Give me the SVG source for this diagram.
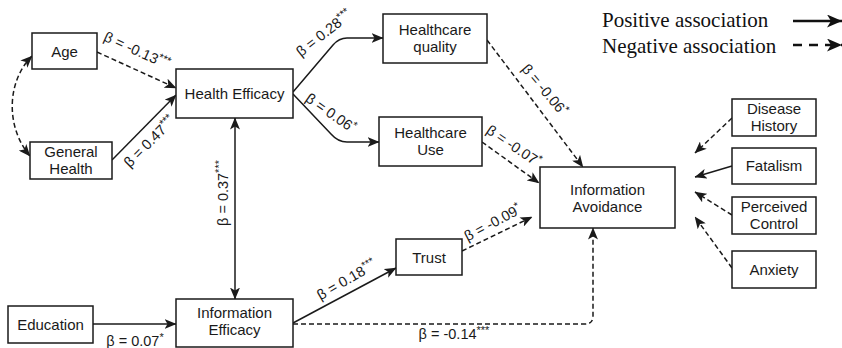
<svg xmlns="http://www.w3.org/2000/svg" width="842" height="348" viewBox="0 0 842 348">
  <style>
    .box { fill: #fff; stroke: #1a1a1a; stroke-width: 1.5; }
    .lbl { font-family: "Liberation Sans", Arial, sans-serif; font-size: 15px; fill: #1a1a1a; text-anchor: middle; }
    .coef { font-family: "Liberation Sans", Arial, sans-serif; font-size: 14.5px; fill: #1a1a1a; text-anchor: middle; }
    .sup { font-size: 11px; }
    .leg { font-family: "Liberation Serif", "Times New Roman", serif; font-size: 21px; fill: #111; }
    .pos { fill: none; stroke: #1a1a1a; stroke-width: 1.5; marker-end: url(#ah); }
    .neg { fill: none; stroke: #1a1a1a; stroke-width: 1.5; stroke-dasharray: 5 3; marker-end: url(#ah); }
  </style>
  <defs>
    <marker id="ah" viewBox="0 0 12 10" refX="11.5" refY="5" markerWidth="12" markerHeight="10" markerUnits="userSpaceOnUse" orient="auto-start-reverse">
      <path d="M0,0 L12,5 L0,10 L3,5 z" fill="#1a1a1a"/>
    </marker>
    <marker id="ah-big" viewBox="0 0 15 13" refX="15" refY="6.5" markerWidth="15" markerHeight="13" markerUnits="userSpaceOnUse" orient="auto">
      <path d="M0,0 L15,6.5 L0,13 L4,6.5 z" fill="#111"/>
    </marker>
  </defs>
  <rect width="842" height="348" fill="#fff"/>

  <!-- legend -->
  <g id="legend">
    <text class="leg" x="602" y="27">Positive association</text>
    <text class="leg" x="602" y="53">Negative association</text>
    <line x1="793" y1="21" x2="842" y2="21" stroke="#111" stroke-width="2.5" marker-end="url(#ah-big)"/>
    <line x1="793" y1="45" x2="842" y2="45" stroke="#111" stroke-width="2.5" stroke-dasharray="9 7" marker-end="url(#ah-big)"/>
  </g>

  <!-- connectors -->
  <g id="connectors">
    <path class="neg" d="M32,56 C6,82 6,128 30,156" marker-start="url(#ah)"/>
    <path class="neg" d="M97,52 L176,88"/>
    <path class="pos" d="M112,160 L176,95"/>
    <path class="pos" d="M235,118 L235,299" marker-start="url(#ah)"/>
    <path class="pos" d="M293,92 L333,45 Q339,38 347,38 L383,38"/>
    <path class="pos" d="M293,94 L331,134 Q338,142 347,142 L379,142"/>
    <path class="neg" d="M487,40 L583,167"/>
    <path class="neg" d="M482,142 L539,183"/>
    <path class="pos" d="M93,324 L176,324"/>
    <path class="pos" d="M293,323 L396,268"/>
    <path class="neg" d="M462,251 L532,217"/>
    <path class="neg" d="M293,324 L585,324 Q593,324 593,316 L593,228"/>
    <path class="neg" d="M732,118 L695,153"/>
    <path class="pos" d="M732,166 L695,177"/>
    <path class="neg" d="M732,215 L695,192"/>
    <path class="neg" d="M732,268 L695,217"/>
  </g>

  <!-- path coefficients -->
  <g id="coefficients">
    <text class="coef" transform="translate(135,55) rotate(24.5)">β = -0.13<tspan class="sup" dy="-5">***</tspan></text>
    <text class="coef" transform="translate(153,145) rotate(-45)">β = 0.47<tspan class="sup" dy="-5">***</tspan></text>
    <text class="coef" transform="translate(228,193) rotate(-90)">β = 0.37<tspan class="sup" dy="-5">***</tspan></text>
    <text class="coef" transform="translate(327,37) rotate(-38)">β = 0.28<tspan class="sup" dy="-5">***</tspan></text>
    <text class="coef" transform="translate(328,117) rotate(35)">β = 0.06<tspan class="sup" dy="-5">*</tspan></text>
    <text class="coef" transform="translate(541,93) rotate(50)">β = -0.06<tspan class="sup" dy="-5">*</tspan></text>
    <text class="coef" transform="translate(511,150) rotate(34)">β = -0.07<tspan class="sup" dy="-5">*</tspan></text>
    <text class="coef" transform="translate(349,284) rotate(-30)">β = 0.18<tspan class="sup" dy="-5">***</tspan></text>
    <text class="coef" transform="translate(495,227) rotate(-28)">β = -0.09<tspan class="sup" dy="-5">*</tspan></text>
    <text class="coef" x="135" y="346">β = 0.07<tspan class="sup" dy="-5">*</tspan></text>
    <text class="coef" x="454" y="339">β = -0.14<tspan class="sup" dy="-5">***</tspan></text>
  </g>

  <!-- nodes -->
  <g id="age"><rect class="box" x="32" y="33" width="65" height="36"/><text class="lbl" x="64.5" y="56.5">Age</text></g>
  <g id="general-health"><rect class="box" x="30" y="142" width="82" height="37"/><text class="lbl" x="71" y="157">General</text><text class="lbl" x="71" y="174">Health</text></g>
  <g id="health-efficacy"><rect class="box" x="176" y="69" width="117" height="49"/><text class="lbl" x="234.5" y="99">Health Efficacy</text></g>
  <g id="healthcare-quality"><rect class="box" x="383" y="14" width="104" height="49"/><text class="lbl" x="435" y="35">Healthcare</text><text class="lbl" x="435" y="52">quality</text></g>
  <g id="healthcare-use"><rect class="box" x="379" y="117" width="103" height="49"/><text class="lbl" x="430.5" y="138">Healthcare</text><text class="lbl" x="430.5" y="155">Use</text></g>
  <g id="information-avoidance"><rect class="box" x="540" y="167" width="135" height="61"/><text class="lbl" x="607.5" y="195">Information</text><text class="lbl" x="607.5" y="212">Avoidance</text></g>
  <g id="disease-history"><rect class="box" x="732" y="99" width="84" height="37"/><text class="lbl" x="774" y="114">Disease</text><text class="lbl" x="774" y="131">History</text></g>
  <g id="fatalism"><rect class="box" x="732" y="148" width="84" height="36"/><text class="lbl" x="774" y="171">Fatalism</text></g>
  <g id="perceived-control"><rect class="box" x="732" y="197" width="84" height="37"/><text class="lbl" x="774" y="212">Perceived</text><text class="lbl" x="774" y="229">Control</text></g>
  <g id="anxiety"><rect class="box" x="732" y="251" width="84" height="37"/><text class="lbl" x="774" y="274.5">Anxiety</text></g>
  <g id="trust"><rect class="box" x="396" y="239" width="66" height="36"/><text class="lbl" x="429" y="262.5">Trust</text></g>
  <g id="education"><rect class="box" x="8" y="306" width="85" height="37"/><text class="lbl" x="50.5" y="329.5">Education</text></g>
  <g id="information-efficacy"><rect class="box" x="176" y="299" width="117" height="48"/><text class="lbl" x="234.5" y="318">Information</text><text class="lbl" x="234.5" y="335">Efficacy</text></g>
</svg>
